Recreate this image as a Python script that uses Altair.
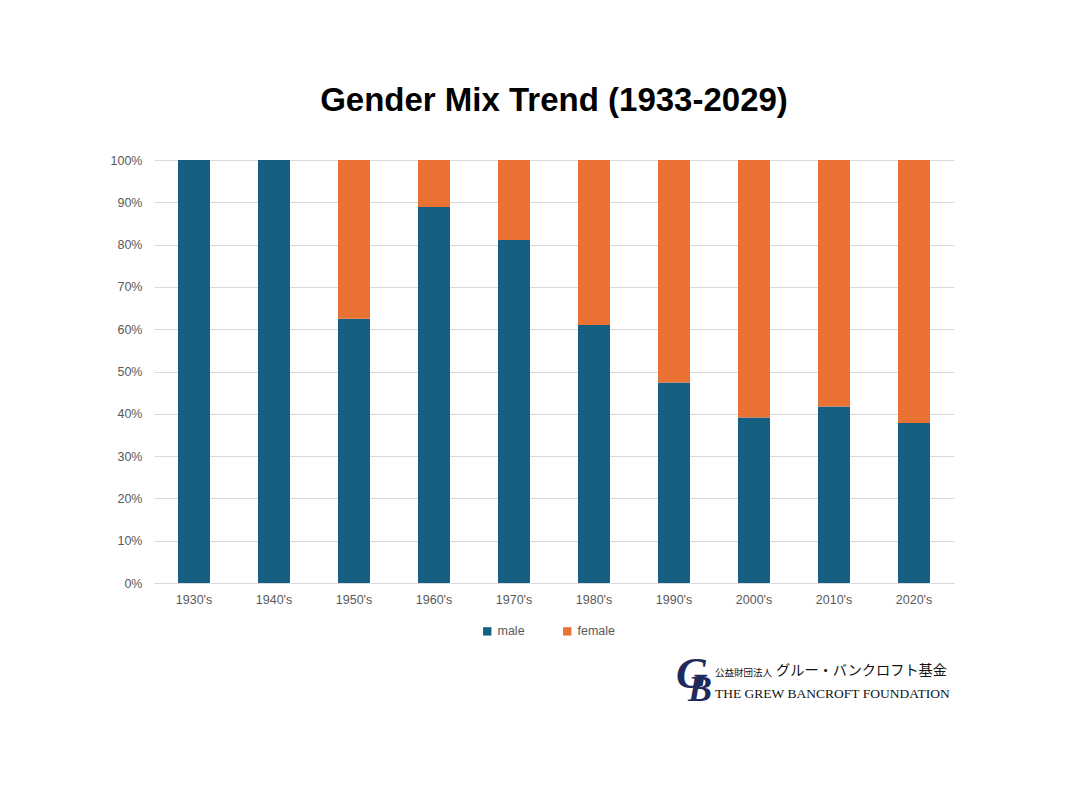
import altair as alt
import pandas as pd

decades = ["1930's", "1940's", "1950's", "1960's", "1970's", "1980's", "1990's", "2000's", "2010's", "2020's"]
male = [100, 100, 62.5, 88.9, 81.1, 61.0, 47.4, 39.1, 41.7, 37.8]
female = [0, 0, 37.5, 11.1, 18.9, 39.0, 52.6, 60.9, 58.3, 62.2]
genders = ["male", "female"]
colors = ["#156082", "#E97132"]

rows = []
for d, m, f in zip(decades, male, female):
    rows.append({"decade": d, "gender": "male", "share": m / 100, "ord": 0})
    rows.append({"decade": d, "gender": "female", "share": f / 100, "ord": 1})
df = pd.DataFrame(rows)

FONT = "Liberation Sans"
GRAY = "#595959"
NAVY = "#1f2a5c"

bars = alt.Chart(df).mark_bar(width=32).encode(
    x=alt.X("decade:N", sort=decades, title=None,
            scale=alt.Scale(paddingInner=0.6, paddingOuter=0.3),
            axis=alt.Axis(labelAngle=0, ticks=False, domainColor="#d9d9d9",
                          labelColor=GRAY, labelFontSize=12.5, labelFont=FONT,
                          labelPadding=10, grid=False)),
    y=alt.Y("share:Q", stack="zero", title=None,
            scale=alt.Scale(domain=[0, 1]),
            axis=alt.Axis(format=".0%", values=[i / 10 for i in range(11)],
                          domain=False, ticks=False, gridColor="#d9d9d9",
                          labelColor=GRAY, labelFontSize=12.5, labelFont=FONT,
                          labelPadding=12)),
    color=alt.Color("gender:N", scale=alt.Scale(domain=genders, range=colors),
                    legend=alt.Legend(title=None, orient="none", legendX=327, legendY=465,
                                      direction="horizontal", symbolType="square",
                                      symbolSize=70, labelFontSize=12.5, labelColor=GRAY,
                                      labelFont=FONT, columnPadding=36, symbolStrokeWidth=0)),
    order=alt.Order("ord:Q"),
)

g_mark = alt.Chart(pd.DataFrame({"t": ["G"]})).mark_text(
    font="Liberation Serif", fontSize=44, fontStyle="italic", fontWeight="bold",
    color=NAVY, align="center", baseline="middle"
).encode(text="t:N", x=alt.value(538), y=alt.value(515))

b_mark = alt.Chart(pd.DataFrame({"t": ["B"]})).mark_text(
    font="Liberation Serif", fontSize=36, fontStyle="italic", fontWeight="bold",
    color=NAVY, align="center", baseline="middle"
).encode(text="t:N", x=alt.value(546), y=alt.value(530))

jp_small = alt.Chart(pd.DataFrame({"t": ["公益財団法人"]})).mark_text(
    font="Noto Sans CJK JP", fontSize=9.5, color="#111111", align="left", baseline="middle"
).encode(text="t:N", x=alt.value(561), y=alt.value(513))

jp_big = alt.Chart(pd.DataFrame({"t": ["グルー・バンクロフト基金"]})).mark_text(
    font="Noto Sans CJK JP", fontSize=14.2, color="#111111", align="left", baseline="middle"
).encode(text="t:N", x=alt.value(622), y=alt.value(511))

en = alt.Chart(pd.DataFrame({"t": ["THE GREW BANCROFT FOUNDATION"]})).mark_text(
    font="Liberation Serif", fontSize=13.5, color="#111111", align="left", baseline="middle"
).encode(text="t:N", x=alt.value(561), y=alt.value(534))

chart = alt.layer(bars, g_mark, b_mark, jp_small, jp_big, en).properties(
    width=800, height=423,
    title=alt.Title("Gender Mix Trend (1933-2029)", font=FONT, fontSize=33,
                    fontWeight="bold", color="#000000", anchor="middle", offset=36),
    autosize=alt.AutoSizeParams(type="none"),
    padding={"left": 146, "top": 152, "right": 105, "bottom": 209},
    background="white",
).configure_view(stroke=None)

chart.save("out.html", embed_options={"renderer": "svg", "actions": False})
